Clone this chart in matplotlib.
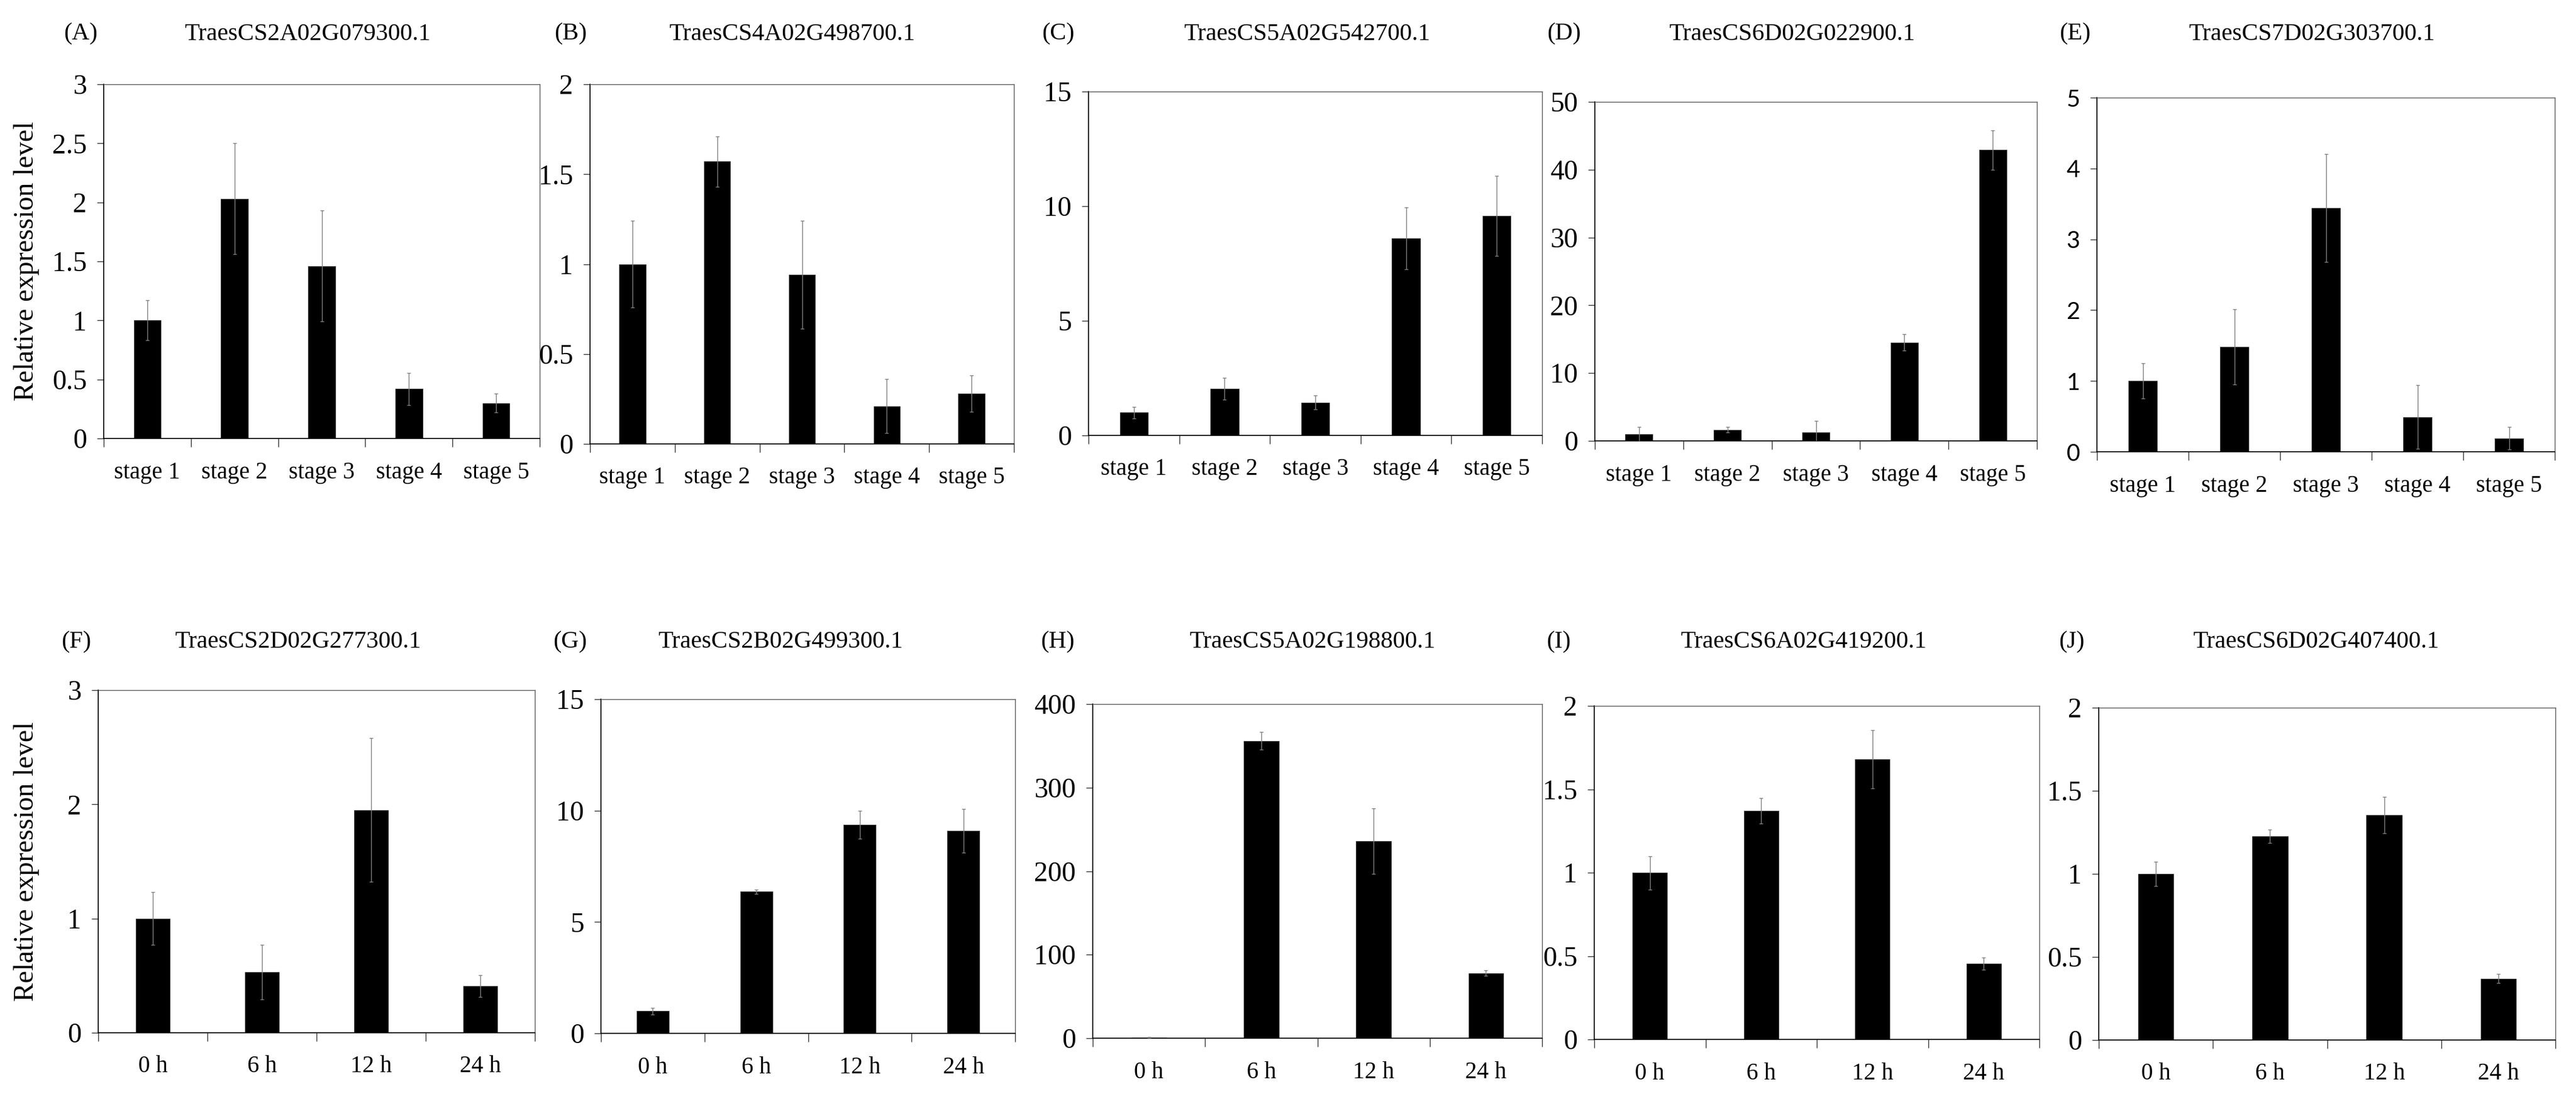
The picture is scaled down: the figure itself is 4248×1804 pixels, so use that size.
import matplotlib
matplotlib.use("Agg")
import matplotlib.pyplot as plt
import numpy as np

plt.rcParams['font.family'] = ['Liberation Serif', 'DejaVu Serif']

W, H = 4248, 1804
DPI = 100

stages = ["stage 1", "stage 2", "stage 3", "stage 4", "stage 5"]
hours = ["0 h", "6 h", "12 h", "24 h"]

letters = ["(A)", "(B)", "(C)", "(D)", "(E)", "(F)", "(G)", "(H)", "(I)", "(J)"]
genes = ["TraesCS2A02G079300.1", "TraesCS4A02G498700.1", "TraesCS5A02G542700.1",
         "TraesCS6D02G022900.1", "TraesCS7D02G303700.1", "TraesCS2D02G277300.1",
         "TraesCS2B02G499300.1", "TraesCS5A02G198800.1", "TraesCS6A02G419200.1",
         "TraesCS6D02G407400.1"]

val_A = [1.0, 2.03, 1.46, 0.42, 0.30]
err_A = [0.17, 0.47, 0.47, 0.135, 0.08]
val_B = [1.0, 1.57, 0.94, 0.21, 0.28]
err_B = [0.24, 0.14, 0.30, 0.15, 0.10]
val_C = [1.0, 2.03, 1.44, 8.6, 9.57]
err_C = [0.25, 0.48, 0.30, 1.35, 1.75]
val_D = [1.0, 1.64, 1.28, 14.5, 42.9]
err_D = [1.1, 0.4, 1.7, 1.2, 2.9]
val_E = [1.0, 1.48, 3.44, 0.49, 0.19]
err_E = [0.25, 0.53, 0.76, 0.45, 0.16]
val_F = [1.0, 0.53, 1.95, 0.41]
err_F = [0.23, 0.24, 0.63, 0.095]
val_G = [1.0, 6.36, 9.37, 9.08]
err_G = [0.15, 0.10, 0.62, 0.98]
val_H = [1.0, 356, 236, 78]
err_H = [0.3, 10.5, 39, 3.5]
val_I = [1.0, 1.37, 1.68, 0.455]
err_I = [0.10, 0.077, 0.175, 0.035]
val_J = [1.0, 1.225, 1.355, 0.37]
err_J = [0.073, 0.04, 0.11, 0.027]

values = [val_A, val_B, val_C, val_D, val_E, val_F, val_G, val_H, val_I, val_J]
errors = [err_A, err_B, err_C, err_D, err_E, err_F, err_G, err_H, err_I, err_J]
cats = [stages] * 5 + [hours] * 5
yticks = [
    [0, 0.5, 1, 1.5, 2, 2.5, 3],
    [0, 0.5, 1, 1.5, 2],
    [0, 5, 10, 15],
    [0, 10, 20, 30, 40, 50],
    [0, 1, 2, 3, 4, 5],
    [0, 1, 2, 3],
    [0, 5, 10, 15],
    [0, 100, 200, 300, 400],
    [0, 0.5, 1, 1.5, 2],
    [0, 0.5, 1, 1.5, 2],
]

# axes boxes in pixels: left, right, top, bottom
boxes = [
    (171, 890, 139, 723),
    (973, 1672, 139, 732),
    (1795, 2543, 151, 718),
    (2630, 3359, 168, 727),
    (3458, 4213, 161, 745),
    (162, 882, 1138, 1703),
    (991, 1674, 1153, 1704),
    (1802, 2543, 1161, 1712),
    (2629, 3363, 1164, 1714),
    (3461, 4214, 1167, 1715),
]
letter_x = [133, 941, 1745, 2579, 3422, 126, 940, 1744, 2570, 3416]
title_x = [507, 1306, 2155, 2955, 3812, 491, 1287, 2164, 2974, 3819]
title_y = [56] * 5 + [1059] * 5

fig = plt.figure(figsize=(W / DPI, H / DPI), dpi=DPI)
fig.patch.set_facecolor("white")


def fmt(v):
    s = ("%g" % v)
    return s


for k in range(10):
    l, r, t, b = boxes[k]
    ax = fig.add_axes([l / W, 1 - b / H, (r - l) / W, (b - t) / H])
    n = len(cats[k])
    x = np.arange(n) + 0.5
    ax.bar(x, values[k], width=0.31, color="black", edgecolor="#3a3a3a",
           linewidth=0.8, zorder=2)
    ax.errorbar(x, values[k], yerr=errors[k], fmt="none", ecolor="#7f7f7f",
                elinewidth=1.0, capsize=2.5, capthick=1.0, zorder=3)
    ax.set_xlim(0, n)
    yt = yticks[k]
    ax.set_ylim(yt[0], yt[-1])
    ax.set_yticks(yt)
    if k == 4:
        ax.set_yticklabels([fmt(v) for v in yt], fontsize=28,
                           fontfamily=["Lato", "DejaVu Sans"])
    else:
        ax.set_yticklabels([fmt(v) for v in yt], fontsize=33)
    ax.set_xticks(np.arange(n + 1))
    ax.set_xticklabels([])
    ax.set_xticks(x, minor=True)
    ax.set_xticklabels(cats[k], minor=True, fontsize=28)
    ax.tick_params(axis="x", which="major", direction="out", length=10,
                   width=1.0, color="#333333")
    ax.tick_params(axis="x", which="minor", length=0, pad=27)
    ax.tick_params(axis="y", which="major", direction="out", length=8,
                   width=1.0, color="#333333", pad=12)
    for side in ["left", "bottom"]:
        ax.spines[side].set_color("black")
        ax.spines[side].set_linewidth(1.2)
    for side in ["top", "right"]:
        ax.spines[side].set_color("#595959")
        ax.spines[side].set_linewidth(1.0)
    ax.set_facecolor("white")

    fig.text(letter_x[k] / W, 1 - title_y[k] / H, letters[k], ha="center",
             va="center", fontsize=29)
    fig.text(title_x[k] / W, 1 - title_y[k] / H, genes[k], ha="center",
             va="center", fontsize=29)

# y-axis labels
for (l, r, t, b) in [boxes[0], boxes[5]]:
    fig.text(44 / W, 1 - ((t + b) / 2) / H, "Relative expression level",
             rotation=90, ha="center", va="center", fontsize=33)

fig.savefig("out.png", dpi=DPI, facecolor="white")
